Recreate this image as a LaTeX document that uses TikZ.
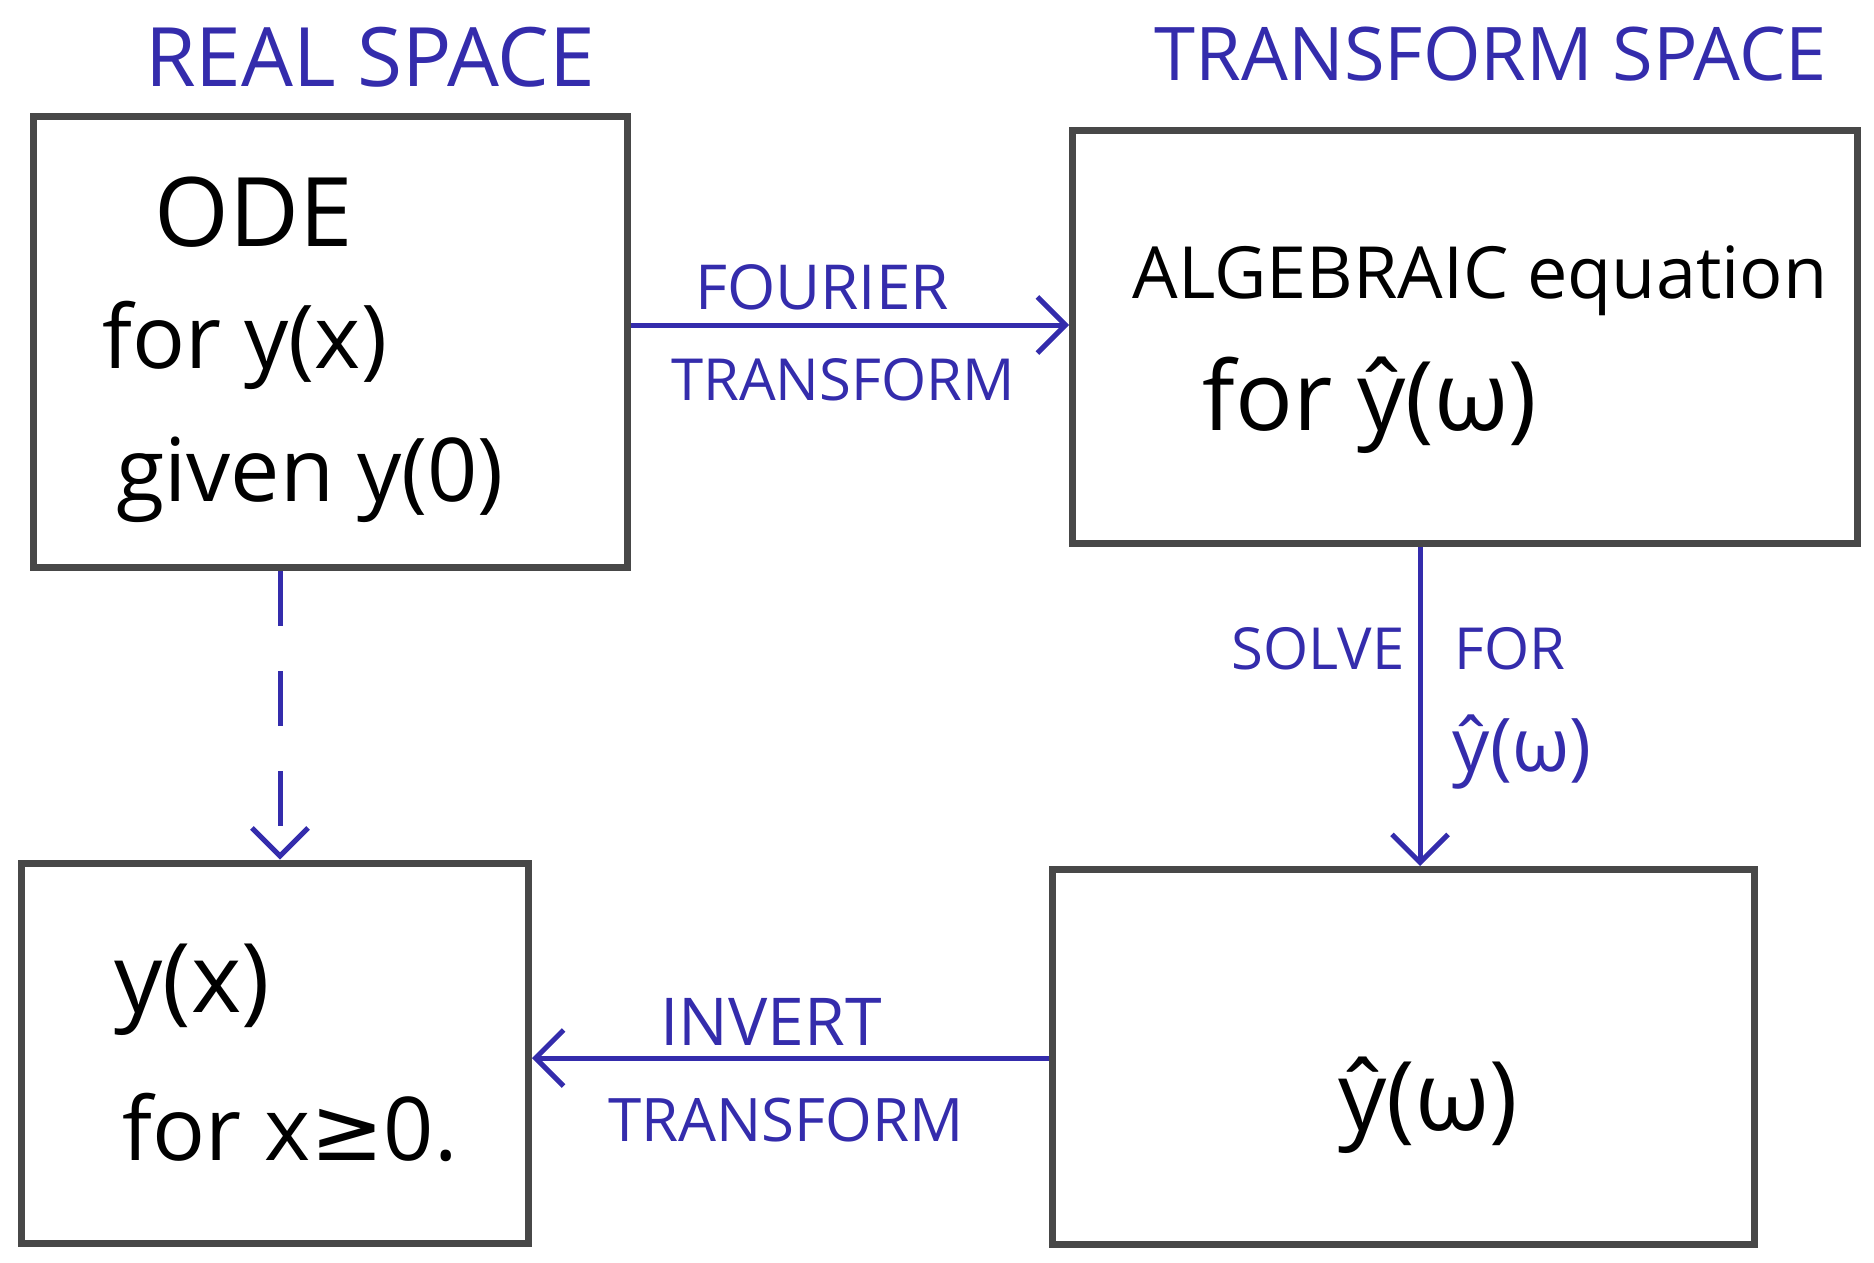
\documentclass[tikz,border=0pt]{standalone}
\usepackage{fontspec}
\setmainfont{Open Sans}
\newfontfamily\symfont{DejaVu Sans}
\usetikzlibrary{arrows.meta}
\definecolor{ink}{RGB}{52,44,172}
\definecolor{boxgray}{RGB}{72,72,72}
\newcommand{\fsz}[1]{\fontsize{#1}{#1}\selectfont}
\tikzset{
  box/.style={draw=boxgray, line width=7pt},
  bigtext/.style={font=\fsz{88}, text=black, align=left},
  label/.style={font=\fsz{58}, text=ink},
  title/.style={text=ink},
  flow/.style={draw=ink, line width=5pt, -{Straight Barb[length=28pt,width=56pt,line width=5pt]}},
  dflow/.style={flow, dash pattern=on 55pt off 45pt}
}
\begin{document}
\begin{tikzpicture}[x=1pt,y=-1pt]
\useasboundingbox (0,0) rectangle (1874,1263);
% boxes
\node[box, minimum width=594pt, minimum height=451pt] (ode) at (330,342) {};
\node[box, minimum width=785pt, minimum height=413pt] (alg) at (1465,337) {};
\node[box, minimum width=507pt, minimum height=380pt] (sol) at (275,1053) {};
\node[box, minimum width=702pt, minimum height=375pt] (hat) at (1403,1057) {};
% titles
\node[title, font=\fsz{82}] (t1) at (370,57) {REAL SPACE};
\node[title, font=\fsz{74}] (t2) at (1491,54) {TRANSFORM SPACE};
% box contents
\node[bigtext, font=\fsz{96}] (o1) at (254,212) {ODE};
\node[bigtext] (o2) at (245,345) {for y(x)};
\node[bigtext] (o3) at (310,480) {given y(0)};
\node[bigtext, font=\fsz{72}] (a1) at (1480,281) {ALGEBRAIC equation};
\node[bigtext, font=\fsz{96}] (a2) at (1370,405) {for ŷ(ω)};
\node[bigtext, font=\fsz{96}] (s1) at (192,990) {y(x)};
\node[bigtext] (s2) at (290,1127) {for x{\symfont ≥}0.};
\node[bigtext, font=\fsz{96}] (h1) at (1428,1105) {ŷ(ω)};
% connectors
\coordinate (fa) at (ode.east |- 0,325);
\coordinate (fb) at (alg.west |- 0,325);
\draw[flow] (fa) -- (fb);
\node[label, font=\fsz{62}] (l1) at (822,287) {FOURIER};
\node[label] (l2) at (843,380) {TRANSFORM};
\coordinate (sa) at (1420,0 |- alg.south);
\coordinate (sb) at (1420,0 |- hat.north);
\draw[flow] (alg.south -| sa) -- (hat.north -| sb);
\node[label] (l3) at (1318,649) {SOLVE};
\node[label] (l4) at (1510,649) {FOR};
\node[label, font=\fsz{74}] (l5) at (1522,752) {ŷ(ω)};
\coordinate (ia) at (hat.west |- 0,1058);
\coordinate (ib) at (sol.east |- 0,1058);
\draw[flow] (ia) -- (ib);
\node[label, font=\fsz{66}] (l6) at (771,1022) {INVERT};
\node[label, font=\fsz{60}] (l7) at (786,1120) {TRANSFORM};
\coordinate (da) at (280,0 |- ode.south);
\coordinate (db) at (280,0 |- sol.north);
\draw[dflow] (ode.south -| da) -- (sol.north -| db);
\end{tikzpicture}
\end{document}
